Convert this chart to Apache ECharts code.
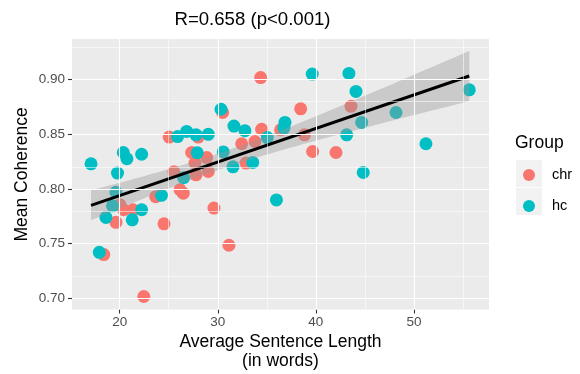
<!DOCTYPE html>
<html>
<head>
<meta charset="utf-8">
<script src="https://cdn.jsdelivr.net/npm/echarts@6/dist/echarts.min.js"></script>
<style>
  html, body { margin: 0; padding: 0; background: #fff; }
  #chart { width: 580px; height: 374px; }
</style>
</head>
<body>
<div id="chart"></div>
<script>
// Average sentence length (words) and mean coherence per speaker
const chrX = [25.05, 28.01, 27.34, 28.87, 27.68, 29.03, 25.53, 27.78, 23.67, 26.15, 26.48,
              29.61, 24.52, 20.03, 20.40, 21.36, 19.62, 18.38, 31.14, 22.46, 30.50, 34.37,
              34.47, 32.44, 33.79, 32.87, 36.41, 38.45, 38.84, 39.67, 42.05, 43.58];
const chrY = [0.8475, 0.8475, 0.8334, 0.8288, 0.8237, 0.8160, 0.8158, 0.8130, 0.7929, 0.7993, 0.7962,
              0.7825, 0.7681, 0.7855, 0.7810, 0.7810, 0.7695, 0.7400, 0.7485, 0.7016, 0.8700, 0.9020,
              0.8547, 0.8414, 0.8435, 0.8237, 0.8542, 0.8734, 0.8496, 0.8343, 0.8334, 0.8757];

const hcX = [17.08, 17.92, 18.60, 19.78, 19.62, 19.27, 20.37, 20.74, 22.24, 21.28, 22.24, 24.26,
             25.90, 26.83, 27.78, 29.03, 27.91, 26.52, 30.33, 30.56, 31.55, 33.56, 31.65, 32.77,
             35.05, 36.85, 36.75, 35.98, 39.63, 43.37, 44.09, 48.17, 55.64, 44.67, 43.14, 51.22, 44.83];
const hcY = [0.8230, 0.7420, 0.7740, 0.8146, 0.7970, 0.7846, 0.8334, 0.8277, 0.8318, 0.7718, 0.7810, 0.7942,
             0.8480, 0.8527, 0.8496, 0.8500, 0.8331, 0.8103, 0.8730, 0.8339, 0.8203, 0.8243, 0.8576, 0.8533,
             0.8471, 0.8609, 0.8558, 0.7900, 0.9052, 0.9058, 0.8893, 0.8700, 0.8908, 0.8609, 0.8496, 0.8414, 0.8151];

const groupNames = ['chr', 'hc'];
const groupColors = ['#F8766D', '#00BFC4'];

const xTicks = [20, 30, 40, 50];
const xMinor = [15, 25, 35, 45, 55];
const yTicks = [0.70, 0.75, 0.80, 0.85, 0.90];
const yMinor = [0.725, 0.775, 0.825, 0.875, 0.925];

const titleText = 'R=0.658 (p<0.001)';

// ---- linear fit with 95% confidence band (all speakers pooled) ----
const allX = chrX.concat(hcX);
const allY = chrY.concat(hcY);
const n = allX.length;
const mean = a => a.reduce((s, v) => s + v, 0) / a.length;
const mx = mean(allX), my = mean(allY);
let sxx = 0, sxy = 0;
for (let i = 0; i < n; i++) {
  sxx += (allX[i] - mx) ** 2;
  sxy += (allX[i] - mx) * (allY[i] - my);
}
const slope = sxy / sxx;
const icept = my - slope * mx;
let sse = 0;
for (let i = 0; i < n; i++) sse += (allY[i] - icept - slope * allX[i]) ** 2;
const sRes = Math.sqrt(sse / (n - 2));
const tCrit = 1.996; // t quantile 0.975, df = n - 2
const xLo = Math.min(...allX), xHi = Math.max(...allX);
const upper = [], lower = [];
const steps = 80;
for (let k = 0; k < steps; k++) {
  const x = xLo + (xHi - xLo) * k / (steps - 1);
  const yHat = icept + slope * x;
  const se = sRes * Math.sqrt(1 / n + (x - mx) ** 2 / sxx);
  upper.push([x, yHat + tCrit * se]);
  lower.push([x, yHat - tCrit * se]);
}
const bandPolygon = upper.concat(lower.slice().reverse());
const fitLine = [[xLo, icept + slope * xLo], [xHi, icept + slope * xHi]];

const FONT = '"Liberation Sans", Arial, Helvetica, sans-serif';

const chart = echarts.init(document.getElementById('chart'), null, { renderer: 'canvas' });

const gridLineSeries = {
  type: 'line',
  data: [],
  z: 1,
  silent: true,
  markLine: {
    silent: true,
    symbol: 'none',
    label: { show: false },
    animation: false,
    data: [
      ...xMinor.map(v => ({ xAxis: v, lineStyle: { color: '#fff', width: 0.55, type: 'solid' } })),
      ...yMinor.map(v => ({ yAxis: v, lineStyle: { color: '#fff', width: 0.55, type: 'solid' } })),
      ...xTicks.map(v => ({ xAxis: v, lineStyle: { color: '#fff', width: 1.1, type: 'solid' } })),
      ...yTicks.map(v => ({ yAxis: v, lineStyle: { color: '#fff', width: 1.1, type: 'solid' } }))
    ]
  }
};

const scatterSeries = [[chrX, chrY], [hcX, hcY]].map((g, gi) => ({
  name: groupNames[gi],
  type: 'scatter',
  z: 2,
  symbol: 'circle',
  symbolSize: 13,
  itemStyle: { color: groupColors[gi], opacity: 1 },
  data: g[0].map((x, i) => [x, g[1][i]])
}));

const option = {
  animation: false,
  textStyle: { fontFamily: FONT },
  grid: {
    left: 72, top: 39, right: 91, bottom: 64.5,
    show: true, backgroundColor: '#EBEBEB', borderWidth: 0
  },
  xAxis: {
    type: 'value',
    min: 15.14, max: 57.65,
    axisLine: { show: false },
    splitLine: { show: false },
    axisTick: { show: true, customValues: xTicks, length: 4, lineStyle: { color: '#333', width: 1.1 } },
    axisLabel: { customValues: xTicks, color: '#4D4D4D', fontSize: 13.5, fontFamily: FONT, margin: 6 }
  },
  yAxis: {
    type: 'value',
    min: 0.6897, max: 0.9373,
    axisLine: { show: false },
    splitLine: { show: false },
    axisTick: { show: true, customValues: yTicks, length: 4, lineStyle: { color: '#333', width: 1.1 } },
    axisLabel: { customValues: yTicks, color: '#4D4D4D', fontSize: 13.5, fontFamily: FONT, margin: 7,
                 formatter: v => v.toFixed(2) }
  },
  legend: {
    orient: 'vertical',
    left: 523, top: 167.5,
    padding: 0,
    itemWidth: 12, itemHeight: 12, itemGap: 16,
    icon: 'circle',
    data: groupNames,
    textStyle: { color: '#000', fontSize: 14.5, fontFamily: FONT, padding: [0, 0, 0, 12] },
    selectedMode: false
  },
  graphic: [
    { type: 'text', x: 252.5, y: 20, z: 10,
      style: { text: titleText, font: '18.6px ' + FONT, fill: '#000', align: 'center', verticalAlign: 'middle' } },
    { type: 'text', x: 280.5, y: 341.7, z: 10,
      style: { text: 'Average Sentence Length', font: '17.5px ' + FONT, fill: '#000', align: 'center', verticalAlign: 'middle' } },
    { type: 'text', x: 280.5, y: 361, z: 10,
      style: { text: '(in words)', font: '17.5px ' + FONT, fill: '#000', align: 'center', verticalAlign: 'middle' } },
    { type: 'text', x: 22, y: 174.4, rotation: Math.PI / 2, z: 10,
      style: { text: 'Mean Coherence', font: '17.5px ' + FONT, fill: '#000', align: 'center', verticalAlign: 'middle' } },
    { type: 'text', x: 515, y: 143, z: 10,
      style: { text: 'Group', font: '17.5px ' + FONT, fill: '#000', align: 'left', verticalAlign: 'middle' } },
    { type: 'rect', shape: { x: 516, y: 160, width: 26, height: 27 }, z: -1, style: { fill: '#F2F2F2' } },
    { type: 'rect', shape: { x: 516, y: 188, width: 26, height: 27 }, z: -1, style: { fill: '#F2F2F2' } }
  ],
  series: [
    gridLineSeries,
    ...scatterSeries,
    {
      type: 'custom', name: 'band', z: 3, silent: true,
      data: [[xLo, icept + slope * xLo]],
      renderItem: (params, api) => ({
        type: 'polygon',
        shape: { points: bandPolygon.map(p => api.coord(p)) },
        style: { fill: 'rgba(153,153,153,0.4)' }
      })
    },
    {
      type: 'line', name: 'fit', z: 4, silent: true,
      showSymbol: false, symbol: 'none',
      lineStyle: { color: '#000', width: 3 },
      data: fitLine
    }
  ]
};

chart.setOption(option);
</script>
</body>
</html>
